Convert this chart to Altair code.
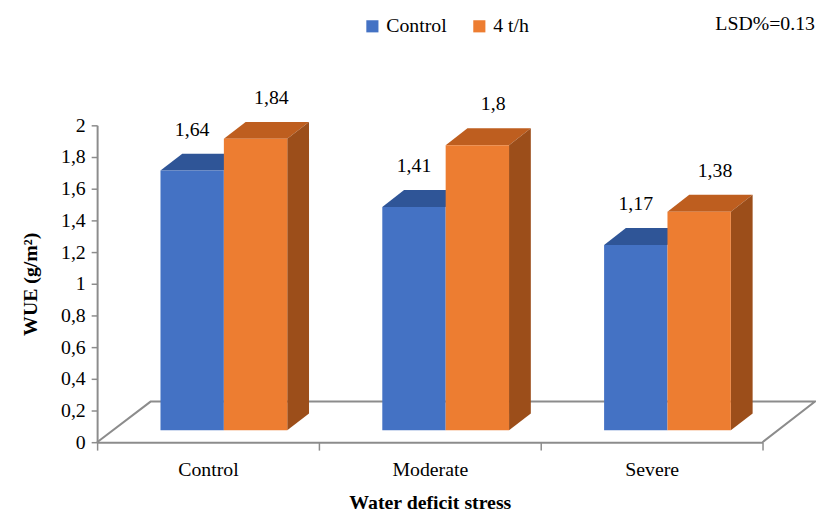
import json
import altair as alt
import pandas as pd

# ---------------- data ----------------
categories = ["Control", "Moderate", "Severe"]
series = ["Control", "4 t/h"]
control_values = [1.64, 1.41, 1.17]
t4h_values = [1.84, 1.80, 1.38]
control_labels = ["1,64", "1,41", "1,17"]
t4h_labels = ["1,84", "1,8", "1,38"]
y_ticks = [0, 0.2, 0.4, 0.6, 0.8, 1.0, 1.2, 1.4, 1.6, 1.8, 2.0]
lsd_text = "LSD%=0.13"

# ---------------- style / layout ----------------
FONT = "Liberation Serif"
FRONT = {"Control": "#4472C4", "4 t/h": "#ED7D31"}
TOP = {"Control": "#2F5597", "4 t/h": "#BE5E1F"}
SIDE = {"Control": "#2A4D8A", "4 t/h": "#9C4E1A"}
GRID_GRAY = "#8C8C8C"

PLOT_W, PLOT_H = 672, 320
UX = PLOT_W / 3.0      # px per category unit
UY = PLOT_H / 2.0      # px per value unit
BAR_W = 64 / UX
DEPTH_X = 22 / UX
DEPTH_Y = 17 / UY
SHIFT_X = 16 / UX
SHIFT_Y = 12 / UY
FLOOR_DX_L = 54 / UX
FLOOR_DX_R = 53 / UX
FLOOR_DY = 41 / UY
LABEL_DX = {"Control": 0.0, "4 t/h": 16 / UX}

values_by_series = {"Control": control_values, "4 t/h": t4h_values}
labels_by_series = {"Control": control_labels, "4 t/h": t4h_labels}

fronts, faces, labels = [], [], []
for i, cat in enumerate(categories):
    for k, s in enumerate(series):
        v = values_by_series[s][i]
        x0 = i + SHIFT_X - BAR_W + k * BAR_W
        x1 = x0 + BAR_W
        y0 = SHIFT_Y
        y1 = SHIFT_Y + v
        fronts.append({"series": s, "x0": x0, "x1": x1, "y0": y0, "y1": y1})
        fid = f"top-{s}-{i}"
        for (xx, ya, yb) in [(x0, y1, y1), (x0 + DEPTH_X, y1, y1 + DEPTH_Y),
                             (x1, y1, y1 + DEPTH_Y), (x1 + DEPTH_X, y1 + DEPTH_Y, y1 + DEPTH_Y)]:
            faces.append({"face": fid, "x": xx, "ya": ya, "yb": yb, "fill": TOP[s], "k": k})
        if k == len(series) - 1:
            fid = f"side-{s}-{i}"
            for (xx, ya, yb) in [(x1, y0, y1), (x1 + DEPTH_X, y0 + DEPTH_Y, y1 + DEPTH_Y)]:
                faces.append({"face": fid, "x": xx, "ya": ya, "yb": yb, "fill": SIDE[s], "k": k})
        labels.append({"x": (x0 + x1) / 2 + LABEL_DX[s], "y": y1,
                       "text": labels_by_series[s][i]})

floor = pd.DataFrame({
    "x": [-0.5, -0.5 + FLOOR_DX_L, 2.5 + FLOOR_DX_R, 2.5],
    "y": [0, FLOOR_DY, FLOOR_DY, 0],
    "o": [0, 1, 2, 3],
})

xscale = alt.Scale(domain=[-0.5, 2.5], nice=False, zero=False)
yscale = alt.Scale(domain=[0, 2], nice=False, zero=True)

cat_js = json.dumps(categories)
x_axis = alt.Axis(
    values=[-0.5, 0, 0.5, 1, 1.5, 2, 2.5],
    tickCount=20,
    labelExpr=f"datum.value % 1 == 0 ? {cat_js}[datum.value] : ''",
    tickOpacity={"condition": {"test": "datum.value % 1 == 0", "value": 0}, "value": 1},
    tickSize=8, tickColor=GRID_GRAY, tickWidth=1.5,
    domainColor=GRID_GRAY, domainWidth=2,
    labelFont=FONT, labelFontSize=20, labelColor="black", labelPadding=10,
    labelOverlap=False, labelFlush=False,
    grid=False,
    title="Water deficit stress", titleFont=FONT, titleFontSize=20,
    titleFontWeight="bold", titleColor="black", titlePadding=13,
)
y_axis = alt.Axis(
    values=y_ticks,
    tickCount=20,
    format=".1~f",
    labelExpr="replace(datum.label, '.', ',')",
    labelOverlap=False, labelFlush=False,
    tickSize=6, tickColor=GRID_GRAY, tickWidth=1.5,
    domainColor=GRID_GRAY, domainWidth=2,
    labelFont=FONT, labelFontSize=20, labelColor="black", labelPadding=6,
    grid=False,
    title="WUE (g/m²)", titleFont=FONT, titleFontSize=20,
    titleFontWeight="bold", titleColor="black", titlePadding=20,
)

floor_layer = alt.Chart(floor).mark_line(color=GRID_GRAY, strokeWidth=2).encode(
    x=alt.X("x:Q", scale=xscale, axis=x_axis),
    y=alt.Y("y:Q", scale=yscale, axis=y_axis),
    order="o:Q",
)

face_layer = alt.Chart(pd.DataFrame(faces)).mark_area(interpolate="linear").encode(
    x=alt.X("x:Q", scale=xscale, axis=x_axis),
    y=alt.Y("ya:Q", scale=yscale, stack=None, axis=y_axis),
    y2="yb:Q",
    detail="face:N",
    color=alt.Color("fill:N", scale=None),
)

front_layer = alt.Chart(pd.DataFrame(fronts)).mark_rect().encode(
    x=alt.X("x0:Q", scale=xscale, axis=x_axis),
    x2="x1:Q",
    y=alt.Y("y0:Q", scale=yscale, axis=y_axis),
    y2="y1:Q",
    color=alt.Color(
        "series:N",
        scale=alt.Scale(domain=series, range=[FRONT[s] for s in series]),
        legend=alt.Legend(
            title=None, orient="none", direction="horizontal",
            legendX=268, legendY=-110,
            symbolType="square", symbolSize=150, symbolStrokeWidth=0,
            labelFont=FONT, labelFontSize=20, labelColor="black",
            columnPadding=22, labelOffset=4,
        ),
    ),
)

label_layer = alt.Chart(pd.DataFrame(labels)).mark_text(
    font=FONT, fontSize=20, color="black", dy=-41, baseline="middle"
).encode(
    x=alt.X("x:Q", scale=xscale, axis=x_axis),
    y=alt.Y("y:Q", scale=yscale, axis=y_axis),
    text="text:N",
)

chart = alt.layer(floor_layer, face_layer, front_layer, label_layer).properties(
    width=PLOT_W, height=PLOT_H,
    autosize=alt.AutoSizeParams(type="none"),
    padding={"left": 90, "top": 116, "right": 54, "bottom": 68},
    title=alt.TitleParams(
        lsd_text, anchor="end", frame="group", font=FONT, fontSize=20,
        fontWeight="normal", color="black", dx=53, offset=0, dy=18,
    ),
).configure_view(stroke=None)

chart.save("out.html", embed_options={"renderer": "svg", "actions": False})
